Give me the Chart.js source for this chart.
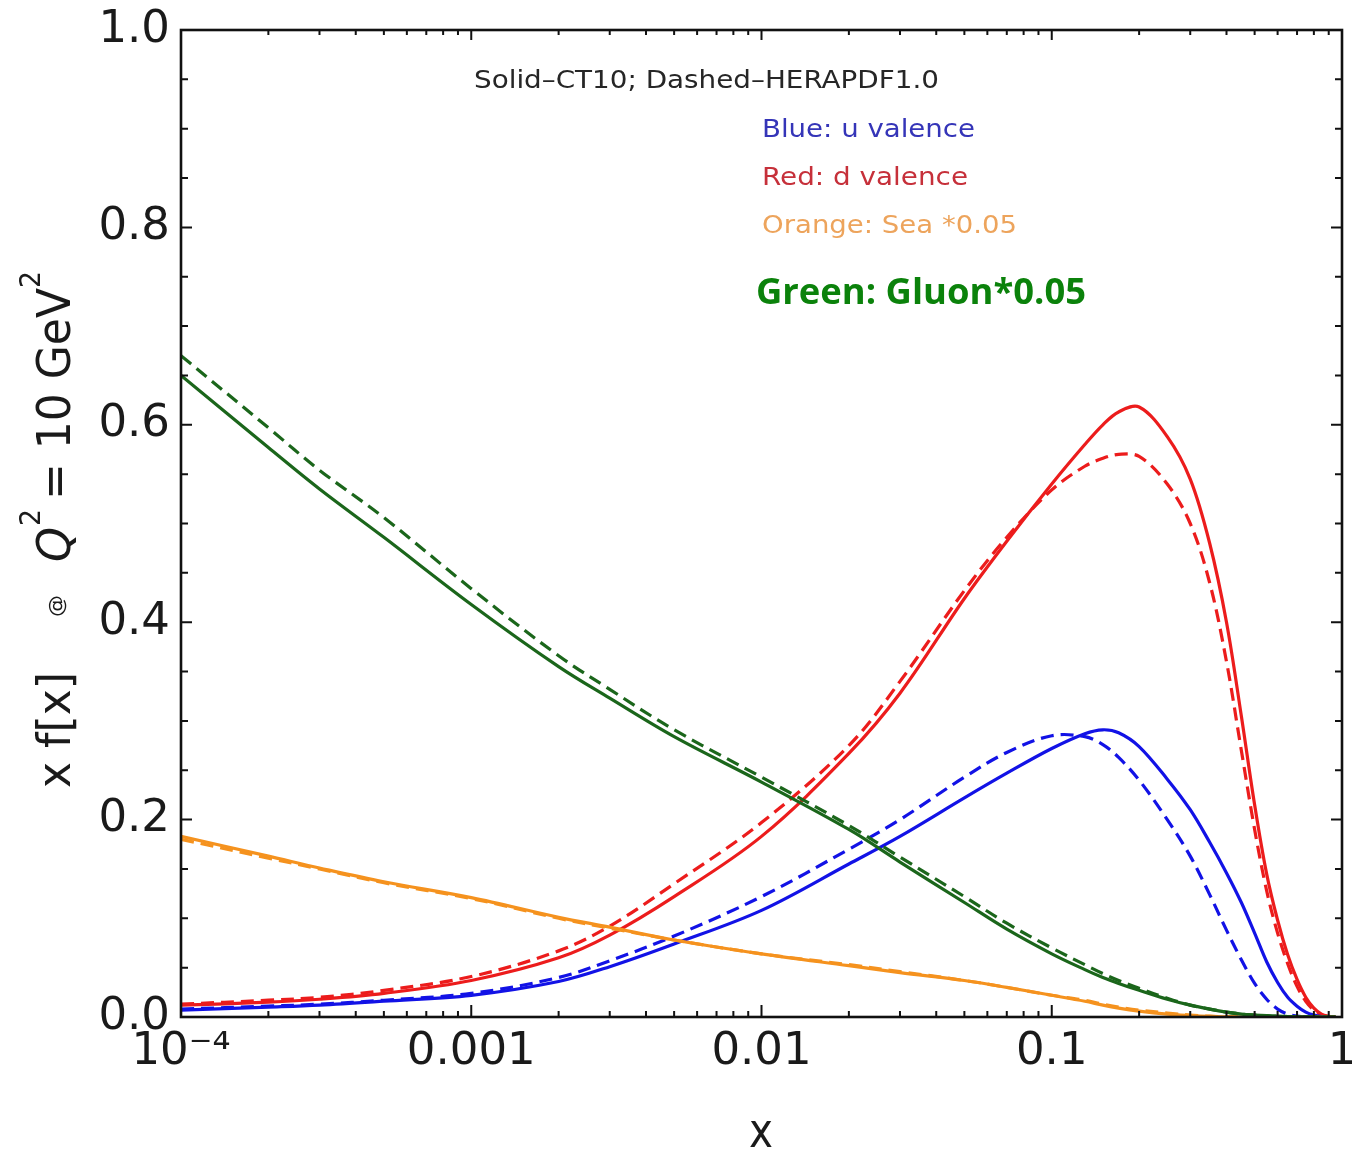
<!DOCTYPE html>
<html>
<head>
<meta charset="utf-8">
<script src="https://cdn.jsdelivr.net/npm/chart.js@4.4.1/dist/chart.umd.min.js"></script>
<style>
  html, body { margin: 0; padding: 0; background: #ffffff; }
  canvas { display: block; }
</style>
</head>
<body>
<canvas id="pdf" width="1352" height="1153"></canvas>
<script>
// Momentum fraction x (log-spaced sample points)
const xGrid = [0.0001, 0.0002, 0.0003, 0.0005, 0.001, 0.002, 0.003, 0.005,
  0.01, 0.02, 0.03, 0.05, 0.07, 0.1, 0.13, 0.15, 0.17, 0.2,
  0.25, 0.3, 0.35, 0.4, 0.45, 0.5, 0.55, 0.6, 0.65, 0.7, 0.75, 0.8, 0.85, 0.9, 0.95];

// x f(x) at Q^2 = 10 GeV^2 — u valence
const uvCT10 = [0.007, 0.010, 0.012, 0.016, 0.022, 0.036, 0.051, 0.074,
  0.108, 0.155, 0.183, 0.222, 0.247, 0.272, 0.287, 0.291, 0.288, 0.274,
  0.241, 0.210, 0.177, 0.146, 0.116, 0.085, 0.056, 0.035, 0.020, 0.011, 0.005, 0.002, 0.0005, 0, 0];
const uvHERA = [0.008, 0.011, 0.013, 0.017, 0.024, 0.040, 0.057, 0.082,
  0.122, 0.170, 0.200, 0.243, 0.268, 0.285, 0.284, 0.276, 0.263, 0.240,
  0.200, 0.163, 0.124, 0.088, 0.058, 0.034, 0.018, 0.008, 0.003, 0.001, 0, 0, 0, 0, 0];

// d valence
const dvCT10 = [0.012, 0.015, 0.018, 0.024, 0.037, 0.060, 0.083, 0.122,
  0.183, 0.267, 0.328, 0.424, 0.482, 0.540, 0.580, 0.600, 0.613, 0.618,
  0.588, 0.545, 0.480, 0.400, 0.305, 0.215, 0.145, 0.098, 0.063, 0.038, 0.020, 0.009, 0.003, 0.0008, 0];
const dvHERA = [0.013, 0.017, 0.020, 0.027, 0.041, 0.067, 0.092, 0.135,
  0.197, 0.275, 0.340, 0.432, 0.486, 0.534, 0.558, 0.566, 0.570, 0.568,
  0.540, 0.500, 0.440, 0.360, 0.270, 0.190, 0.128, 0.085, 0.054, 0.031, 0.016, 0.007, 0.002, 0.0004, 0];

// sea, scaled by 0.05
const seaCT10 = [0.183, 0.163, 0.151, 0.137, 0.121, 0.101, 0.091, 0.078,
  0.064, 0.052, 0.045, 0.037, 0.030, 0.022, 0.016, 0.012, 0.009, 0.006,
  0.003, 0.0015, 0.0006, 0.0002, 0, 0, 0, 0, 0, 0, 0, 0, 0, 0, 0];
const seaHERA = [0.180, 0.161, 0.150, 0.136, 0.120, 0.100, 0.090, 0.078,
  0.064, 0.053, 0.046, 0.037, 0.030, 0.022, 0.017, 0.013, 0.010, 0.007,
  0.004, 0.002, 0.0008, 0.0003, 0, 0, 0, 0, 0, 0, 0, 0, 0, 0, 0];

// gluon, scaled by 0.05
const gluonCT10 = [0.650, 0.577, 0.535, 0.486, 0.418, 0.355, 0.323, 0.284,
  0.238, 0.190, 0.157, 0.116, 0.089, 0.064, 0.048, 0.040, 0.034, 0.027,
  0.018, 0.012, 0.008, 0.005, 0.003, 0.002, 0.0013, 0.0008, 0.0005, 0.0003, 0.0002, 0.0001, 0, 0, 0];
const gluonHERA = [0.670, 0.597, 0.554, 0.506, 0.434, 0.366, 0.332, 0.291,
  0.243, 0.194, 0.162, 0.122, 0.095, 0.070, 0.053, 0.044, 0.037, 0.029,
  0.019, 0.012, 0.008, 0.005, 0.003, 0.002, 0.0013, 0.0008, 0.0005, 0.0003, 0.0002, 0.0001, 0, 0, 0];

// Axis tick labels
const xTickValues = [0.0001, 0.001, 0.01, 0.1, 1];
const xTickLabels = ['10\u207B\u2074', '0.001', '0.01', '0.1', '1'];
const yTickValues = [0, 0.2, 0.4, 0.6, 0.8, 1.0];
const yTickLabels = ['0.0', '0.2', '0.4', '0.6', '0.8', '1.0'];

const COLORS = { blue: '#1212e6', red: '#ec1c1c', orange: '#f5921e', green: '#1b661b' };
const DASH = [13, 7];

function series(values) {
  return xGrid.map((x, i) => ({ x: x, y: values[i] }));
}
function line(label, values, color, dashed) {
  return {
    label: label,
    data: series(values),
    borderColor: color,
    borderWidth: 3.2,
    borderDash: dashed ? DASH : [],
    pointRadius: 0,
    fill: false,
    tension: 0.35
  };
}

// first dataset is painted last (on top)
const datasets = [
  line('Gluon CT10', gluonCT10, COLORS.green, false),
  line('Gluon HERAPDF1.0', gluonHERA, COLORS.green, true),
  line('Sea CT10', seaCT10, COLORS.orange, false),
  line('Sea HERAPDF1.0', seaHERA, COLORS.orange, true),
  line('u valence CT10', uvCT10, COLORS.blue, false),
  line('u valence HERAPDF1.0', uvHERA, COLORS.blue, true),
  line('d valence CT10', dvCT10, COLORS.red, false),
  line('d valence HERAPDF1.0', dvHERA, COLORS.red, true)
];

// all log-axis tick positions: 1..9 x 10^k
function logTickValues() {
  const out = [];
  for (let k = -4; k < 0; k++) {
    for (let m = 1; m <= 9; m++) out.push(m * Math.pow(10, k));
  }
  out.push(1);
  return out;
}
function isDecade(v) {
  const l = Math.log10(v);
  return Math.abs(l - Math.round(l)) < 1e-9;
}
function lookup(values, labels, v) {
  const i = values.findIndex(t => Math.abs(t - v) <= 1e-9 * Math.max(1, Math.abs(t)) || (t !== 0 && Math.abs(t - v) / t < 1e-6));
  return i >= 0 ? labels[i] : '';
}

// text stretched to a given ink width
function fitText(ctx, text, x, y, width, font, color) {
  ctx.save();
  ctx.font = font;
  ctx.fillStyle = color;
  ctx.textAlign = 'left';
  ctx.textBaseline = 'alphabetic';
  const w = ctx.measureText(text).width;
  ctx.translate(x, y);
  ctx.scale(width / w, 1);
  ctx.fillText(text, 0, 0);
  ctx.restore();
}
// text drawn reading upward, starting at (x, yStart), spanning `length` pixels
function upText(ctx, text, x, yStart, length, font, color) {
  ctx.save();
  ctx.translate(x, yStart);
  ctx.rotate(-Math.PI / 2);
  fitText(ctx, text, 0, 0, length, font, color);
  ctx.restore();
}

const decorations = {
  id: 'decorations',
  afterDraw(chart) {
    const { ctx, chartArea: a, scales: { x, y } } = chart;
    ctx.save();
    ctx.strokeStyle = '#111';
    ctx.lineWidth = 2;
    ctx.beginPath();
    // x ticks, bottom and top, pointing inward
    for (const t of x.ticks) {
      const px = x.getPixelForValue(t.value);
      const major = isDecade(t.value);
      const lb = major ? 12 : 6;
      const lt = major ? 10 : 5;
      ctx.moveTo(px, a.bottom); ctx.lineTo(px, a.bottom - lb);
      ctx.moveTo(px, a.top); ctx.lineTo(px, a.top + lt);
    }
    // y ticks every 0.05, left and right
    for (let i = 0; i <= 20; i++) {
      const v = i * 0.05;
      const py = y.getPixelForValue(v);
      const major = i % 4 === 0;
      const len = major ? 11 : 7;
      ctx.moveTo(a.left, py); ctx.lineTo(a.left + len, py);
      ctx.moveTo(a.right, py); ctx.lineTo(a.right - len, py);
    }
    ctx.stroke();
    // frame
    ctx.lineWidth = 2.6;
    ctx.strokeRect(a.left, a.top, a.right - a.left, a.bottom - a.top);
    ctx.restore();

    // annotations inside the frame
    fitText(ctx, 'Solid\u2013CT10; Dashed\u2013HERAPDF1.0', 474, 88, 465, '25px "DejaVu Sans"', '#262626');
    fitText(ctx, 'Blue: u valence', 762, 137, 213, '24px "DejaVu Sans"', '#3535b8');
    fitText(ctx, 'Red: d valence', 762, 185, 206, '24px "DejaVu Sans"', '#c6303a');
    fitText(ctx, 'Orange: Sea *0.05', 762, 233, 255, '24px "DejaVu Sans"', '#eda45c');
    fitText(ctx, 'Green: Gluon*0.05', 756, 304, 330, 'bold 36px "Open Sans"', '#0b820b');

    // axis titles
    fitText(ctx, 'x', 749, 1147, 24, '48px "DejaVu Sans"', '#1a1a1a');
    upText(ctx, 'x f[x]', 70, 788, 116, '46px "DejaVu Sans"', '#1a1a1a');
    upText(ctx, '@', 63, 617, 22, '20px "DejaVu Sans"', '#1a1a1a');
    upText(ctx, 'Q', 70, 562, 35, 'italic 46px "DejaVu Sans"', '#1a1a1a');
    upText(ctx, '2', 40, 526, 17, '28px "DejaVu Sans"', '#1a1a1a');
    upText(ctx, '= 10 GeV', 70, 500, 212, '46px "DejaVu Sans"', '#1a1a1a');
    upText(ctx, '2', 40, 288, 17, '28px "DejaVu Sans"', '#1a1a1a');
  }
};

const tickFont = { family: 'DejaVu Sans', size: 45 };

new Chart(document.getElementById('pdf'), {
  type: 'line',
  data: { datasets: datasets },
  options: {
    responsive: false,
    animation: false,
    devicePixelRatio: 1,
    layout: { padding: { left: 0, right: 10, top: 30, bottom: 0 } },
    plugins: { legend: { display: false }, tooltip: { enabled: false } },
    scales: {
      x: {
        type: 'logarithmic',
        min: 0.0001,
        max: 1,
        grid: { display: false, drawTicks: false },
        border: { display: false },
        afterBuildTicks: s => { s.ticks = logTickValues().map(v => ({ value: v })); },
        ticks: {
          autoSkip: false,
          maxRotation: 0,
          minRotation: 0,
          padding: 8,
          color: '#1a1a1a',
          font: tickFont,
          callback: v => lookup(xTickValues, xTickLabels, v)
        },
        afterFit: s => { s.height = 136; s.paddingLeft = 0; s.paddingRight = 0; }
      },
      y: {
        type: 'linear',
        min: 0,
        max: 1,
        grid: { display: false, drawTicks: false },
        border: { display: false },
        afterBuildTicks: s => { s.ticks = yTickValues.map(v => ({ value: v })); },
        ticks: {
          padding: 11,
          color: '#1a1a1a',
          font: tickFont,
          callback: v => lookup(yTickValues, yTickLabels, v)
        },
        afterFit: s => { s.width = 181; s.paddingTop = 0; s.paddingBottom = 0; }
      }
    }
  },
  plugins: [decorations]
});
</script>
</body>
</html>
